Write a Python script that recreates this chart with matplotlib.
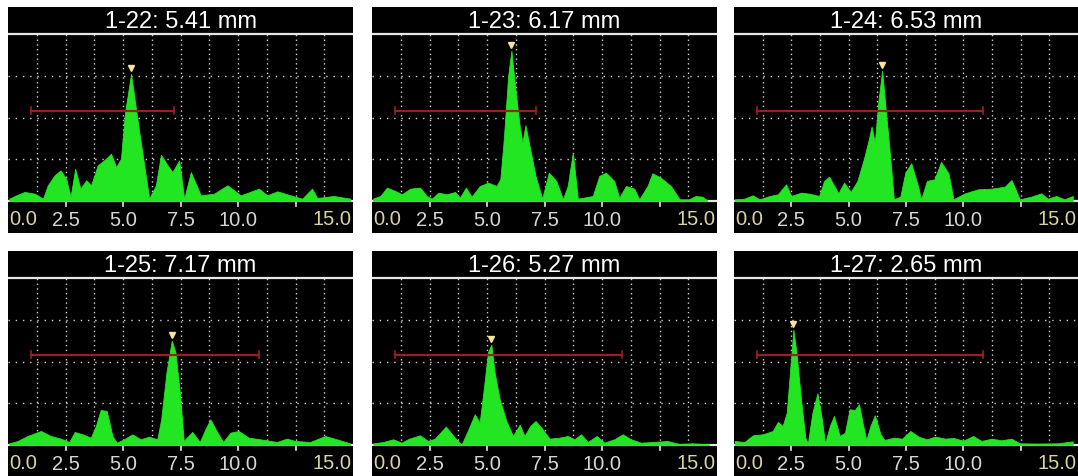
import matplotlib
matplotlib.use("Agg")
import matplotlib.pyplot as plt
import numpy as np

# Six A-scan style panels, amplitude in % of screen height, depth in mm
labels = ["1-22", "1-23", "1-24", "1-25", "1-26", "1-27"]
depths = [5.41, 6.17, 6.53, 7.17, 5.27, 2.65]

x_1_22 = [0.06, 0.36, 0.72, 1.16, 1.52, 1.73, 2.02, 2.28, 2.53, 2.72, 2.92, 3.15, 3.40, 3.61,
          3.90, 4.26, 4.48, 4.70, 4.91, 5.09, 5.35, 5.71, 6.14, 6.43, 6.65, 6.94, 7.15, 7.44,
          7.66, 7.95, 8.38, 8.96, 9.54, 10.12, 10.91, 11.27, 11.71, 12.28, 12.79, 13.22, 13.44,
          14.16, 14.88]
amp_1_22 = [1.4, 3.4, 5.4, 4.4, 1.4, 9.4, 15.3, 18.3, 13.3, 2.4, 19.3, 7.4, 12.4, 9.4,
            21.3, 25.3, 28.3, 20.3, 25.3, 53.2, 76.1, 41.0, 1.4, 9.4, 27.7, 21.3, 17.3, 24.3,
            1.4, 17.3, 3.4, 4.4, 9.4, 3.4, 7.4, 3.4, 5.8, 3.4, 1.4, 7.4, 1.8,
            3.0, 1.4]

x_1_23 = [0.04, 0.36, 0.65, 1.01, 1.30, 1.66, 2.09, 2.38, 2.60, 2.89, 3.25, 3.61, 3.82, 4.08,
          4.33, 4.69, 5.05, 5.41, 5.58, 5.73, 5.92, 6.06, 6.25, 6.42, 6.54, 6.67, 6.85, 7.11,
          7.40, 7.69, 8.01, 8.30, 8.51, 8.73, 8.95, 9.60, 9.88, 10.17, 10.53, 10.75, 11.04,
          11.40, 11.62, 11.98, 12.19, 12.55, 12.99, 13.38, 13.78, 14.07, 14.36, 14.57]
amp_1_23 = [1.4, 3.0, 8.0, 6.0, 4.0, 7.4, 8.0, 3.0, 1.4, 5.0, 4.0, 5.4, 2.0, 8.0,
            2.6, 9.0, 11.0, 9.0, 13.0, 37.0, 75.0, 90.0, 65.0, 45.0, 35.0, 45.4, 33.0, 15.0,
            1.4, 17.0, 12.0, 1.0, 9.0, 29.0, 1.4, 3.0, 15.0, 17.0, 12.0, 2.0, 9.0,
            7.4, 1.0, 9.0, 16.6, 14.0, 9.0, 1.0, 1.0, 3.0, 2.6, 0.4]

x_1_24 = [0.03, 0.46, 0.82, 1.11, 1.55, 1.91, 2.27, 2.49, 2.92, 3.28, 3.71, 3.93, 4.15, 4.55,
          4.80, 5.09, 5.38, 5.66, 5.88, 6.00, 6.14, 6.29, 6.46, 6.60, 6.78, 6.97, 7.25, 7.47,
          7.73, 8.02, 8.16, 8.41, 8.74, 9.03, 9.35, 9.57, 10.07, 10.65, 11.23, 11.81, 12.10,
          12.46, 12.96, 13.40, 13.68, 14.05, 14.41, 14.77]
amp_1_24 = [1.0, 1.4, 3.4, 1.0, 3.0, 4.0, 10.0, 3.0, 5.0, 4.4, 3.0, 12.0, 14.6, 4.6,
            11.0, 5.4, 12.0, 25.0, 37.0, 44.6, 35.0, 59.0, 78.0, 57.0, 31.0, 1.0, 2.6, 17.0,
            22.6, 9.0, 1.0, 12.0, 13.0, 23.4, 16.6, 1.0, 4.6, 7.0, 7.4, 8.6, 12.6,
            1.0, 2.6, 4.6, 1.4, 3.0, 1.0, 3.0]

x_1_25 = [0.06, 0.42, 0.85, 1.43, 1.86, 2.30, 2.66, 2.90, 3.24, 3.60, 3.82, 4.03, 4.29, 4.54,
          4.73, 5.04, 5.40, 5.77, 6.13, 6.49, 6.66, 6.89, 7.12, 7.28, 7.47, 7.64, 8.01, 8.34,
          8.58, 8.80, 9.09, 9.35, 9.67, 10.03, 10.46, 10.97, 11.69, 12.12, 12.49, 13.14, 13.79,
          14.29, 14.87]
amp_1_25 = [1.0, 2.4, 5.4, 8.4, 5.4, 3.8, 1.8, 7.8, 6.4, 4.4, 11.4, 21.0, 20.4, 5.4,
            1.4, 3.4, 6.4, 3.4, 5.0, 3.4, 15.4, 43.5, 62.5, 55.5, 31.5, 2.4, 7.8, 1.8,
            9.4, 15.4, 7.8, 1.8, 7.4, 8.4, 4.4, 3.4, 1.8, 3.8, 2.4, 1.8, 5.4,
            3.4, 1.0]

x_1_26 = [0.06, 0.49, 0.92, 1.29, 1.62, 2.08, 2.44, 2.73, 3.21, 3.60, 3.89, 4.13, 4.47, 4.68,
          4.86, 5.04, 5.19, 5.33, 5.55, 5.84, 6.13, 6.42, 6.63, 6.88, 7.11, 7.36, 7.72, 8.15,
          8.51, 8.80, 9.09, 9.38, 9.77, 10.10, 10.53, 10.90, 11.26, 11.69, 12.20, 12.85, 13.35,
          13.93, 14.65]
amp_1_26 = [1.0, 1.8, 3.4, 1.4, 3.8, 5.8, 2.4, 3.8, 11.0, 4.4, 0.2, 7.4, 18.4, 13.4,
            33.5, 55.5, 60.0, 43.5, 27.5, 14.4, 5.4, 12.2, 5.4, 11.4, 14.4, 10.4, 3.8, 4.4,
            5.4, 3.4, 6.4, 1.8, 5.4, 1.4, 3.4, 6.4, 3.4, 1.4, 1.8, 2.4, 0.6,
            1.0, 0.4]

x_1_27 = [0.03, 0.46, 0.82, 1.26, 1.69, 1.91, 2.12, 2.30, 2.44, 2.59, 2.73, 2.92, 3.11, 3.22,
          3.42, 3.64, 3.83, 3.97, 4.18, 4.36, 4.61, 4.84, 5.04, 5.27, 5.45, 5.62, 5.77, 5.95,
          6.14, 6.39, 6.56, 6.97, 7.33, 7.69, 8.05, 8.41, 8.77, 9.21, 9.57, 10.00, 10.43,
          10.79, 11.23, 11.66, 12.10, 12.46, 13.25, 14.12, 14.77]
amp_1_27 = [2.4, 1.8, 5.8, 6.4, 8.4, 13.8, 11.4, 19.4, 43.5, 69.1, 54.5, 27.5, 4.4, 1.0,
            19.4, 31.0, 15.4, 1.0, 11.4, 17.4, 5.4, 7.4, 21.4, 21.0, 24.4, 12.4, 3.0, 11.4,
            17.8, 6.4, 3.0, 4.4, 3.8, 8.4, 5.0, 3.4, 5.0, 3.8, 4.2, 2.6, 5.4,
            2.4, 3.8, 2.8, 3.8, 1.0, 0.8, 1.0, 2.2]

# gate (red bar): start, end, level
gate_start = [1.0, 1.0, 1.0, 1.0, 1.0, 1.0]
gate_end = [7.2, 7.15, 10.87, 10.9, 10.87, 10.87]
gate_level = [54, 54, 54, 54, 54, 54]

tick_values = [2.5, 5.0, 7.5, 10.0, 12.5]
tick_labels = ["2.5", "5.0", "7.5", "10.0"]

FIG_W, FIG_H = 1078, 477
GREEN = "#22e622"
GRID = "#d2d2d2"
LINE = "#e6e6e6"
GATE = "#982020"
MARK = "#f3e4a0"
END_LABEL = "#d9d3a4"
MID_LABEL = "#d6d6d6"
FONT = ["Liberation Sans", "DejaVu Sans"]

# panel boxes in pixels: left, top, width, height
boxes = [
    (8, 8, 345, 226), (372, 8, 345, 226), (734, 8, 344, 226),
    (8, 252, 345, 225), (372, 252, 345, 225), (734, 252, 344, 225),
]
TITLE_PX = 27
PLOT_PX = 167


def panel(fig, box, title, xs, amps, g0, g1, glev):
    left, top, width, height = box
    ax = fig.add_axes([left / FIG_W, (FIG_H - top - height) / FIG_H,
                       width / FIG_W, height / FIG_H])
    ax.set_facecolor("black")
    for sp in ax.spines.values():
        sp.set_visible(False)
    ax.set_xticks([])
    ax.set_yticks([])
    unit = 100.0 / PLOT_PX
    ax.set_xlim(0, 15)
    ax.set_ylim(-(height - TITLE_PX - PLOT_PX) * unit, 100 + TITLE_PX * unit)

    # dotted grid
    for k in range(1, 12):
        ax.plot([1.25 * k, 1.25 * k], [0, 100], color=GRID, lw=1.0,
                ls=(0, (1, 2.4)), zorder=1)
    for lev in (25, 50, 75):
        ax.plot([0, 15], [lev, lev], color=GRID, lw=1.0, ls=(0, (1, 4.2)), zorder=1)

    ax.plot([0, 15], [0, 0], color=LINE, lw=1.6, zorder=2)
    ax.plot([0, 15], [100, 100], color=LINE, lw=1.6, zorder=2)
    for t in tick_values:
        ax.plot([t, t], [0, -3.2], color=LINE, lw=1.2, zorder=2)

    ax.fill_between(xs, amps, 0, color=GREEN, lw=0.6, edgecolor=GREEN, zorder=3)

    # gate bar with end caps
    ax.plot([g0, g1], [glev, glev], color=GATE, lw=1.6, zorder=4)
    for gx in (g0, g1):
        ax.plot([gx, gx], [glev - 2.2, glev + 2.2], color=GATE, lw=1.2, zorder=4)

    i = int(np.argmax(amps))
    ax.plot(xs[i], amps[i] + 3.5, marker="v", ms=5, color=MARK, mec=MARK, zorder=5)

    ax.text(7.5, 100 + TITLE_PX * unit / 2, title, color="white", fontsize=17,
            ha="center", va="center", family=FONT)
    ly = -10.5
    ax.text(0.05, ly, "0.0", color=END_LABEL, fontsize=14.5, ha="left", va="center",
            family=FONT)
    ax.text(14.95, ly, "15.0", color=END_LABEL, fontsize=14.5, ha="right", va="center",
            family=FONT)
    for t, lab in zip(tick_values, tick_labels):
        ax.text(t, ly - 0.8, lab, color=MID_LABEL, fontsize=14.5, ha="center",
                va="center", family=FONT)


def main():
    fig = plt.figure(figsize=(FIG_W / 100, FIG_H / 100), dpi=100, facecolor="white")
    series = [(x_1_22, amp_1_22), (x_1_23, amp_1_23), (x_1_24, amp_1_24),
              (x_1_25, amp_1_25), (x_1_26, amp_1_26), (x_1_27, amp_1_27)]
    for n, (xs, amps) in enumerate(series):
        title = f"{labels[n]}: {depths[n]:.2f} mm"
        panel(fig, boxes[n], title, xs, amps, gate_start[n], gate_end[n], gate_level[n])
    fig.savefig("out.png", dpi=100, facecolor="white")
    plt.close(fig)


if __name__ == "__main__":
    main()
